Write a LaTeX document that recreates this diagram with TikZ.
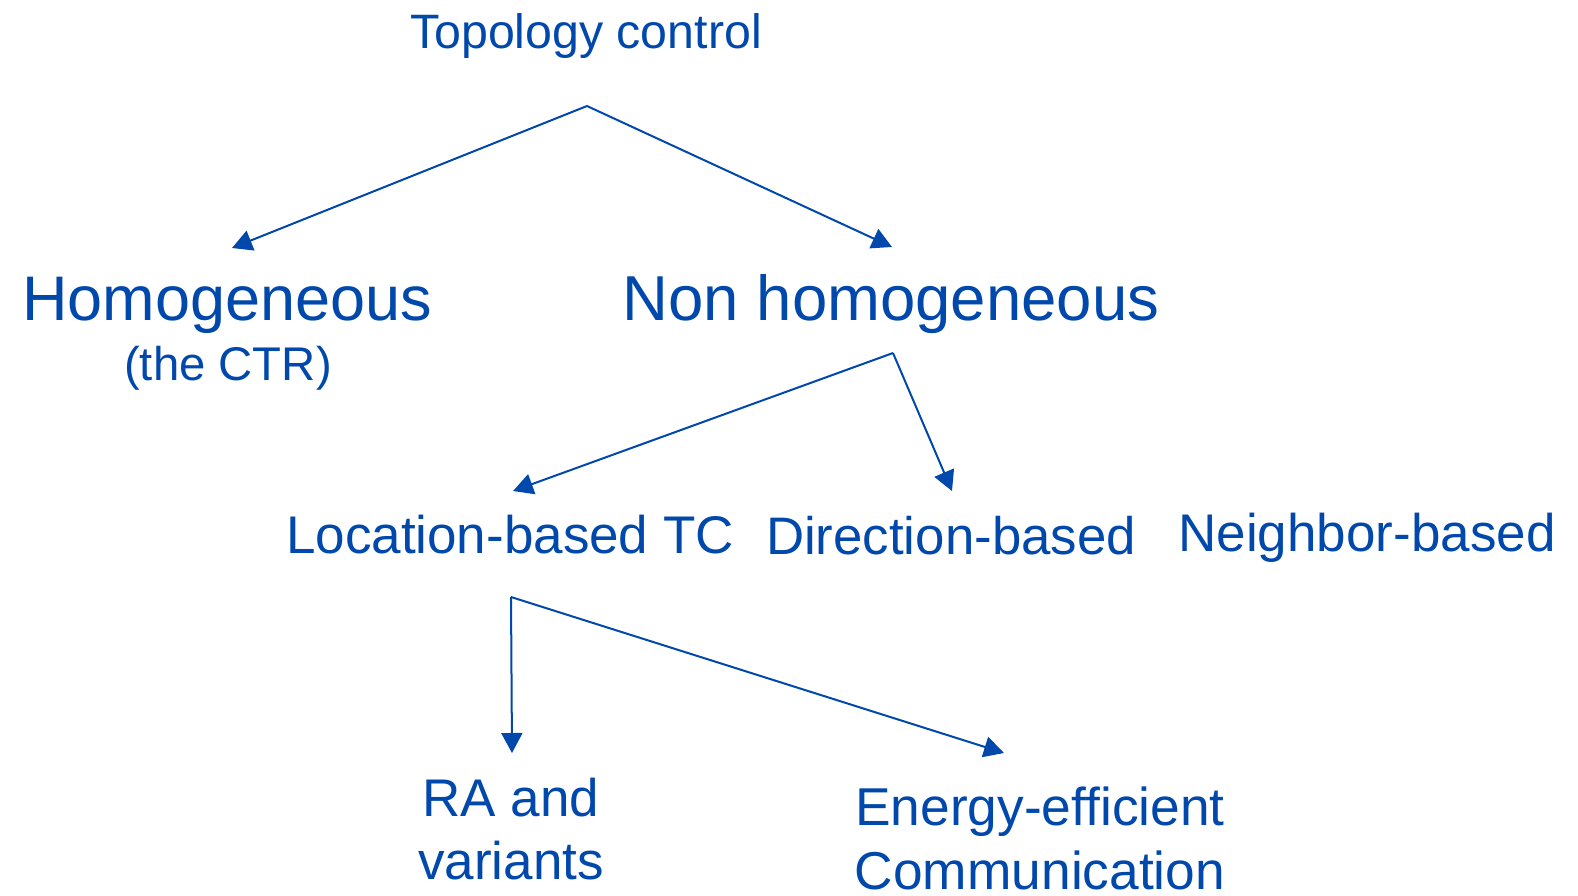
\documentclass[tikz,border=0pt]{standalone}
\usepackage{fontspec}
\setmainfont{Liberation Sans}
\usetikzlibrary{arrows.meta}
\definecolor{tcblue}{RGB}{0,72,171}
\tikzset{
  lbl/.style={text=tcblue, inner sep=0pt, anchor=base, align=center},
  conn/.style={draw=tcblue, line width=2pt, -{Triangle[length=20pt,width=21pt]}}
}
\begin{document}
\begin{tikzpicture}[x=1pt,y=-1pt]
\useasboundingbox (0,0) rectangle (1578,895);
\node[lbl, font=\fontsize{48.3}{58}\selectfont] (tc) at (586,48) {Topology control};
\node[lbl, font=\fontsize{63}{74}\selectfont] (hom) at (227,320) {Homogeneous};
\node[lbl, font=\fontsize{47.3}{56}\selectfont] (ctr) at (228,380) {(the CTR)};
\node[lbl, font=\fontsize{63.5}{76}\selectfont] (non) at (891,320) {Non homogeneous};
\node[lbl, font=\fontsize{53}{63}\selectfont] (loc) at (510,553) {Location-based TC};
\node[lbl, font=\fontsize{52.8}{63}\selectfont] (dir) at (951,554) {Direction-based};
\node[lbl, font=\fontsize{53}{63}\selectfont] (nei) at (1367,551) {Neighbor-based};
\node[lbl, font=\fontsize{53}{63}\selectfont] (ra) at (511,879) {RA and\\variants};
\node[lbl, font=\fontsize{53.3}{64}\selectfont] (ee) at (1040,889) {Energy-efficient\\Communication};
\coordinate (a1) at (587,106);
\coordinate (a2) at (893,353);
\coordinate (a3) at (511,597);
\coordinate (t-hom) at (232,248);
\coordinate (t-non) at (892,247);
\coordinate (t-loc) at (513,491);
\coordinate (t-dir) at (952,491);
\coordinate (t-ra) at (512,753);
\coordinate (t-ee) at (1004,753);
\draw[conn] (a1) -- (t-hom);
\draw[conn] (a1) -- (t-non);
\draw[conn] (a2) -- (t-loc);
\draw[conn] (a2) -- (t-dir);
\draw[conn] (a3) -- (t-ra);
\draw[conn] (a3) -- (t-ee);
\end{tikzpicture}
\end{document}
